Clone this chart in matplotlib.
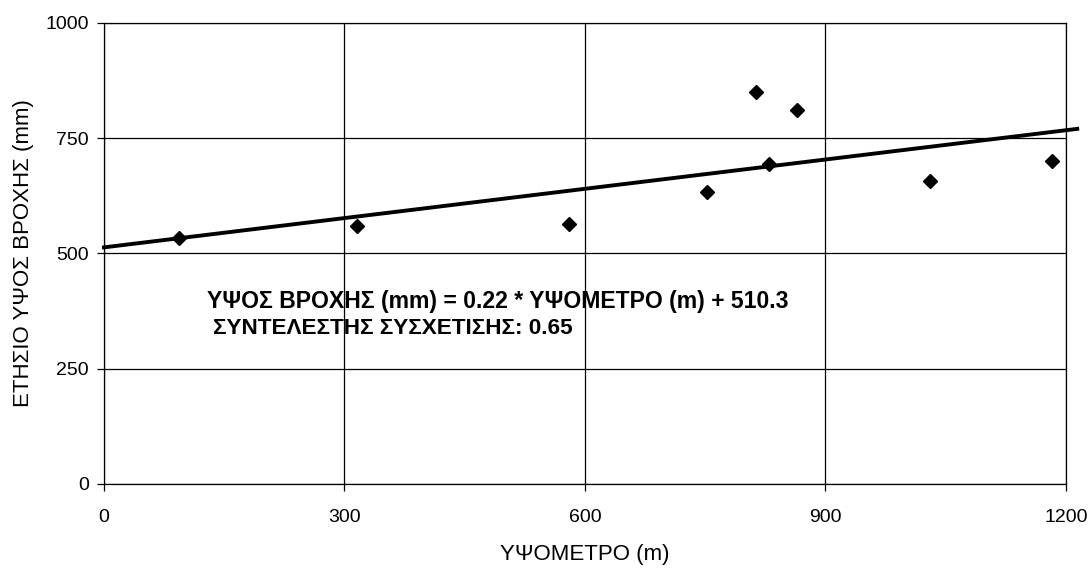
import matplotlib.pyplot as plt

plt.rcParams['font.family'] = ['Liberation Sans', 'DejaVu Sans']

# elevation (m) and annual rainfall (mm) of the stations
elevation = [93, 316, 580, 752, 813, 830, 864, 1030, 1183]
rainfall = [533, 560, 564, 632, 850, 693, 810, 657, 701]

# regression equation as printed, and the drawn trend line
slope = 0.22
intercept = 510.3
corr = 0.65
line_x = [0, 1214]
line_y = [513, 770]

x_ticks = [0, 300, 600, 900, 1200]
y_ticks = [0, 250, 500, 750, 1000]

fig = plt.figure(figsize=(10.92, 5.70), dpi=100)
ax = fig.add_axes([0.0952, 0.151, 0.881, 0.809])

ax.plot(elevation, rainfall, linestyle='none', marker='D', markersize=7,
        color='black', zorder=3)
ax.plot(line_x, line_y, color='black', linewidth=2.8, clip_on=False, zorder=4)

ax.set_xlim(0, 1200)
ax.set_ylim(0, 1000)
ax.set_xticks(x_ticks)
ax.set_yticks(y_ticks)
ax.grid(True, color='black', linewidth=0.9)
ax.set_axisbelow(True)
for s in ax.spines.values():
    s.set_linewidth(0.9)
ax.tick_params(direction='out', length=5, width=0.9, labelsize=14)
ax.tick_params(axis='y', pad=6)
ax.tick_params(axis='x', pad=13)

ax.set_xlabel('ΥΨΟΜΕΤΡΟ (m)', fontsize=16, labelpad=13)
ax.set_ylabel('ΕΤΗΣΙΟ ΥΨΟΣ ΒΡΟΧΗΣ (mm)', fontsize=16, labelpad=8)

ax.text(128, 396, 'ΥΨΟΣ ΒΡΟΧΗΣ (mm) = %.2f * ΥΨΟΜΕΤΡΟ (m) + %.1f' % (slope, intercept),
        fontsize=16.6, fontweight='bold', va='center')
ax.text(136, 338, 'ΣΥΝΤΕΛΕΣΤΗΣ ΣΥΣΧΕΤΙΣΗΣ: %.2f' % corr,
        fontsize=16.2, fontweight='bold', va='center')

fig.savefig('out.png', dpi=100)
